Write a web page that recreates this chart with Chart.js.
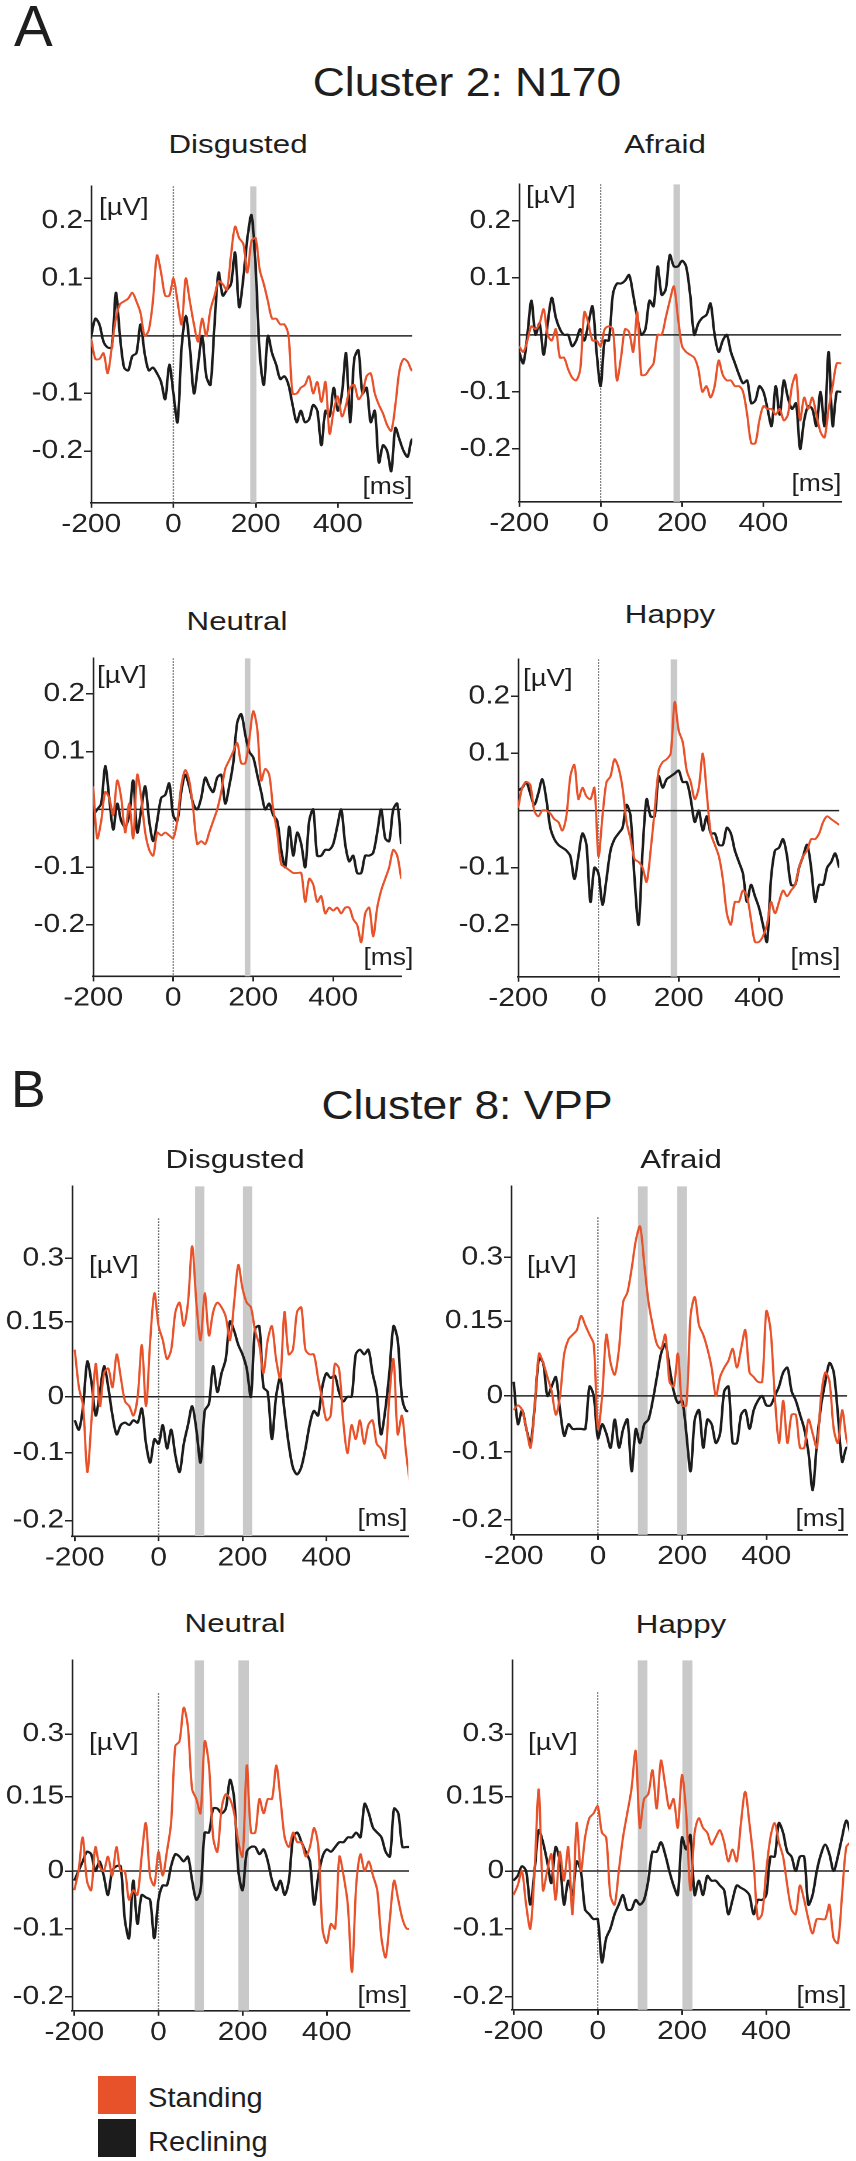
<!DOCTYPE html>
<html><head><meta charset="utf-8">
<script src="https://cdn.jsdelivr.net/npm/chart.js@4.4.1/dist/chart.umd.min.js"></script>
<style>
html,body{margin:0;padding:0;background:#fff;}
body{width:856px;height:2161px;position:relative;overflow:hidden;font-family:'Liberation Sans',Arial,sans-serif;color:#1e1e1e;}
.t{position:absolute;white-space:nowrap;line-height:1;}
.box{position:absolute;transform-origin:0 0;}
.sw{position:absolute;}
</style></head><body>
<script>
// ---------------- DATA ----------------
const times = [
-200,-190,-180,-170,-160,-150,-140,-130,-120,-110,
-100,-90,-80,-70,-60,-50,-40,-30,-20,-10,
0,10,20,30,40,50,60,70,80,90,
100,110,120,130,140,150,160,170,180,190,
200,210,220,230,240,250,260,270,280,290,
300,310,320,330,340,350,360,370,380,390,
400,410,420,430,440,450,460,470,480,490,
500,510,520,530,540,550,560,570,580,590,
600];
const xTickValues = [-200, 0, 200, 400];

const aTickValues = [0.2, 0.1, -0.1, -0.2];
const aTickLabels = ['0.2', '0.1', '-0.1', '-0.2'];
const bTickLabels = ['0.3', '0.15', '0', '-0.1', '-0.2'];
const bTopTickValues = [0.294, 0.159, 0, -0.119, -0.263];
const bBottomTickValues = [0.285, 0.155, 0, -0.12, -0.262];

const seriesNames = ['Standing', 'Reclining'];

// Cluster 2: N170
const AD_S = [ // Disgusted, Standing
-0.005,-0.04,-0.04,-0.03,-0.065,-0.02,0.03,0.055,0.06,0.065,
0.075,0.06,0.04,0.0,0.01,0.06,0.14,0.11,0.07,0.07,
0.1,0.06,0.02,0.1,0.06,0.02,-0.01,0.03,0.0,0.045,
0.07,0.095,0.09,0.08,0.14,0.19,0.17,0.16,0.11,0.165,
0.17,0.115,0.09,0.06,0.03,0.03,0.02,0.02,0.0,-0.1,
-0.1,-0.09,-0.085,-0.07,-0.1,-0.08,-0.115,-0.08,-0.17,-0.13,
-0.105,-0.14,-0.12,-0.09,-0.085,-0.11,-0.1,-0.07,-0.065,-0.1,
-0.12,-0.135,-0.155,-0.165,-0.12,-0.06,-0.04,-0.045,-0.06,-0.06,
-0.06];
const AD_R = [ // Disgusted, Reclining
0.0,0.03,0.02,-0.01,-0.02,-0.02,0.075,0.0,-0.055,-0.06,
-0.035,-0.03,0.02,-0.03,-0.06,-0.055,-0.065,-0.08,-0.11,-0.05,
-0.1,-0.15,-0.02,0.035,-0.02,-0.1,-0.05,0.0,-0.07,-0.085,
0.02,0.11,0.07,0.08,0.09,0.145,0.05,0.1,0.17,0.21,
0.12,-0.03,-0.085,0.0,-0.03,-0.05,-0.075,-0.07,-0.085,-0.12,
-0.15,-0.13,-0.15,-0.145,-0.12,-0.13,-0.19,-0.13,-0.14,-0.09,
-0.13,-0.1,-0.03,-0.15,-0.04,-0.025,-0.1,-0.09,-0.15,-0.13,
-0.22,-0.19,-0.2,-0.235,-0.16,-0.18,-0.2,-0.21,-0.18,-0.18,
-0.18];
const AF_S = [ // Afraid, Standing
-0.02,-0.03,-0.01,0.015,0.01,0.02,0.045,0.0,-0.01,0.01,
-0.04,-0.04,-0.06,-0.075,-0.08,-0.06,0.04,0.02,-0.01,-0.01,
-0.02,0.01,0.015,0.01,-0.08,-0.04,0.01,0.005,-0.03,0.04,
-0.07,-0.07,-0.06,-0.05,0.0,0.0,0.03,0.06,0.085,0.03,
-0.02,-0.03,-0.035,-0.04,-0.06,-0.1,-0.09,-0.11,-0.09,-0.045,
-0.07,-0.08,-0.08,-0.09,-0.09,-0.1,-0.14,-0.19,-0.19,-0.15,
-0.125,-0.13,-0.13,-0.14,-0.13,-0.15,-0.14,-0.09,-0.07,-0.15,
-0.11,-0.13,-0.11,-0.14,-0.17,-0.18,-0.13,-0.09,-0.05,-0.05,
-0.05];
const AF_R = [ // Afraid, Reclining
-0.03,-0.05,0.0,0.06,0.0,0.02,-0.035,0.02,0.065,0.03,
0.01,0.0,0.0,-0.02,-0.01,0.01,-0.01,0.02,0.05,-0.03,
-0.09,-0.01,-0.01,0.07,0.09,0.09,0.095,0.105,0.07,0.03,
0.0,0.01,0.06,0.05,0.12,0.07,0.08,0.14,0.12,0.12,
0.13,0.12,0.07,0.0,0.02,0.03,0.035,0.055,0.0,-0.03,
-0.01,0.0,-0.03,-0.05,-0.07,-0.085,-0.08,-0.12,-0.115,-0.09,
-0.1,-0.13,-0.16,-0.09,-0.14,-0.08,-0.11,-0.13,-0.12,-0.2,
-0.15,-0.125,-0.13,-0.16,-0.1,-0.16,-0.03,-0.16,-0.1,-0.1,
-0.1];
const AN_S = [ // Neutral, Standing
0.04,-0.05,-0.02,0.03,0.02,-0.01,0.05,0.02,-0.04,0.01,
-0.05,0.06,0.02,-0.04,-0.07,-0.08,-0.04,-0.045,-0.04,-0.045,
-0.05,-0.02,0.04,0.068,0.05,0.0,-0.06,-0.055,-0.06,-0.04,
-0.02,0.0,0.03,0.07,0.085,0.1,0.115,0.08,0.08,0.12,
0.17,0.14,0.05,0.07,0.06,0.0,-0.04,-0.095,-0.1,-0.105,
-0.11,-0.11,-0.11,-0.16,-0.12,-0.13,-0.16,-0.15,-0.18,-0.17,
-0.175,-0.17,-0.18,-0.17,-0.17,-0.19,-0.2,-0.23,-0.18,-0.17,
-0.22,-0.17,-0.14,-0.12,-0.1,-0.07,-0.08,-0.12,-0.12,-0.12,
-0.12];
const AN_R = [ // Neutral, Reclining
-0.01,0.0,0.01,0.075,0.02,-0.035,0.01,-0.02,-0.03,-0.01,
0.05,-0.04,0.0,0.04,-0.02,-0.055,-0.02,0.02,0.025,0.045,
-0.01,-0.02,0.03,0.06,0.04,0.01,0.0,0.02,0.055,0.04,
0.03,0.055,0.06,0.01,0.04,0.08,0.15,0.165,0.13,0.1,
0.09,0.06,0.03,0.0,0.01,-0.01,-0.02,-0.07,-0.1,-0.03,
-0.08,-0.04,-0.06,-0.1,-0.02,0.0,-0.08,-0.08,-0.07,-0.07,
-0.06,-0.03,0.0,-0.06,-0.09,-0.08,-0.11,-0.11,-0.08,-0.08,
-0.075,-0.04,0.0,-0.05,-0.055,0.0,0.01,-0.06,-0.06,-0.06,
-0.06];
const AH_S = [ // Happy, Standing
0.005,0.04,0.05,0.045,0.0,-0.01,0.0,0.0,-0.005,-0.015,
-0.02,-0.035,-0.01,0.06,0.08,0.02,0.04,0.025,0.02,0.04,
-0.08,-0.01,0.05,0.06,0.09,0.075,0.04,-0.02,-0.05,-0.085,
-0.09,-0.1,-0.125,-0.07,0.0,0.07,0.085,0.09,0.1,0.19,
0.14,0.12,0.07,0.05,0.02,0.04,0.1,0.03,-0.04,-0.06,
-0.08,-0.12,-0.18,-0.2,-0.16,-0.16,-0.14,-0.15,-0.19,-0.23,
-0.23,-0.22,-0.2,-0.16,-0.18,-0.16,-0.14,-0.15,-0.14,-0.13,
-0.1,-0.08,-0.07,-0.05,-0.05,-0.04,-0.02,-0.01,-0.015,-0.02,
-0.025];
const AH_R = [ // Happy, Reclining
0.035,0.04,0.05,0.03,0.01,0.03,0.055,0.02,-0.03,-0.05,
-0.06,-0.065,-0.07,-0.08,-0.12,-0.08,-0.04,-0.06,-0.16,-0.1,
-0.11,-0.165,-0.12,-0.07,-0.05,-0.04,-0.03,0.01,-0.01,-0.12,
-0.2,-0.07,0.02,-0.01,-0.01,0.06,0.04,0.055,0.06,0.065,
0.07,0.05,0.05,0.02,-0.02,0.0,-0.035,-0.01,-0.04,-0.04,
-0.06,-0.06,-0.03,-0.04,-0.07,-0.09,-0.11,-0.16,-0.13,-0.15,
-0.17,-0.2,-0.23,-0.12,-0.07,-0.065,-0.05,-0.08,-0.13,-0.13,
-0.1,-0.08,-0.06,-0.1,-0.16,-0.13,-0.13,-0.1,-0.09,-0.075,
-0.1];

// Cluster 8: VPP
const BD_S = [ // Disgusted, Standing
0.1,0.02,-0.02,-0.16,-0.05,0.07,-0.02,0.05,0.06,0.02,
0.09,0.04,-0.01,-0.02,-0.04,0.0,0.11,-0.02,0.12,0.22,
0.15,0.12,0.08,0.1,0.18,0.2,0.15,0.2,0.32,0.2,
0.12,0.22,0.13,0.18,0.2,0.19,0.17,0.12,0.2,0.28,
0.23,0.2,0.19,0.14,0.11,0.05,0.12,0.15,0.08,0.04,
0.18,0.09,0.1,0.18,0.19,0.1,0.09,0.09,0.04,-0.005,
-0.05,-0.04,0.07,0.06,-0.05,-0.12,-0.06,-0.09,-0.05,-0.1,
-0.06,-0.05,-0.1,-0.11,-0.13,0.0,0.08,-0.08,-0.04,-0.12,
-0.19];
const BD_R = [ // Disgusted, Reclining
-0.05,-0.07,-0.02,0.075,0.03,-0.04,0.01,0.065,0.02,-0.04,
-0.08,-0.06,-0.055,-0.06,-0.05,-0.055,-0.025,-0.1,-0.14,-0.09,
-0.1,-0.06,-0.11,-0.07,-0.125,-0.16,-0.1,-0.06,-0.02,-0.07,
-0.14,-0.03,-0.015,0.065,0.01,0.05,0.08,0.16,0.14,0.11,
0.09,0.06,0.0,0.145,0.15,0.02,0.01,-0.09,0.0,0.04,
-0.03,-0.1,-0.15,-0.165,-0.15,-0.11,-0.06,-0.03,-0.04,0.02,
0.05,0.04,0.045,0.01,-0.01,0.0,0.0,0.09,0.1,0.09,
0.1,0.05,0.01,-0.08,-0.03,0.05,0.15,0.12,0.0,-0.03,
-0.03];
const BA_S = [ // Afraid, Standing
-0.03,-0.02,-0.03,-0.07,-0.11,-0.02,0.09,0.07,0.04,0.01,
-0.04,0.0,0.09,0.12,0.13,0.14,0.17,0.15,0.13,0.11,
-0.07,0.0,0.13,0.07,0.045,0.1,0.2,0.22,0.27,0.33,
0.36,0.28,0.2,0.15,0.11,0.1,0.13,0.03,0.02,0.09,
-0.02,-0.02,0.17,0.21,0.15,0.13,0.1,0.06,0.0,0.04,
0.06,0.075,0.1,0.06,0.1,0.14,0.05,0.04,0.03,0.03,
0.18,0.14,0.0,-0.1,-0.01,-0.1,-0.04,-0.04,-0.11,-0.11,
-0.05,-0.08,-0.11,0.0,0.05,0.03,-0.07,-0.1,-0.03,-0.09,
-0.12];
const BA_R = [ // Afraid, Reclining
0.03,-0.06,-0.03,-0.07,-0.1,-0.02,0.08,0.07,0.0,0.02,
0.04,-0.03,-0.085,-0.06,-0.07,-0.07,-0.07,-0.07,0.02,0.0,
-0.09,-0.06,-0.08,-0.11,-0.05,-0.11,-0.07,-0.05,-0.16,-0.07,
-0.1,-0.06,-0.05,-0.01,0.04,0.09,0.11,0.06,0.01,-0.015,
-0.01,-0.08,-0.16,-0.05,-0.03,-0.11,-0.05,-0.06,-0.1,-0.08,
0.01,0.02,-0.1,-0.1,-0.04,-0.03,-0.07,-0.03,-0.01,0.0,
-0.02,-0.02,0.0,0.02,0.05,0.06,0.01,-0.01,-0.04,-0.07,
-0.12,-0.2,-0.1,-0.02,0.03,0.07,0.05,-0.04,-0.14,-0.11,
-0.11];
const BN_S = [ // Neutral, Standing
-0.04,0.0,0.07,-0.02,-0.04,0.05,0.01,0.0,0.03,-0.01,
0.05,0.0,0.0,-0.06,-0.04,-0.05,0.03,0.1,-0.01,-0.03,
0.04,-0.01,0.04,0.1,0.26,0.27,0.34,0.3,0.17,0.15,
0.12,0.27,0.22,0.07,0.04,0.13,0.16,0.15,0.12,0.06,
0.03,0.22,0.08,0.08,0.15,0.12,0.15,0.15,0.22,0.15,
0.07,0.05,0.08,0.06,0.06,0.03,0.05,0.09,0.05,-0.12,
-0.15,-0.11,-0.12,0.03,-0.01,-0.07,-0.21,-0.03,0.035,0.0,
0.02,-0.01,-0.04,-0.14,-0.18,-0.1,-0.02,-0.06,-0.1,-0.12,
-0.12];
const BN_R = [ // Neutral, Reclining
-0.02,0.0,0.02,0.04,0.035,0.0,0.02,-0.01,-0.05,0.0,
0.01,0.01,-0.1,-0.14,-0.02,-0.11,-0.05,-0.055,-0.06,-0.14,
-0.06,-0.03,-0.03,0.01,0.035,0.03,0.02,0.03,-0.02,-0.06,
-0.04,0.08,0.08,0.13,0.13,0.12,0.13,0.19,0.15,0.0,
-0.04,0.04,0.05,0.05,0.035,0.045,0.02,-0.02,-0.04,-0.02,
-0.05,-0.02,0.07,0.08,0.06,0.04,0.02,-0.07,-0.01,0.03,
0.045,0.04,0.05,0.06,0.06,0.07,0.07,0.08,0.07,0.14,
0.12,0.09,0.08,0.07,0.04,0.03,0.13,0.12,0.05,0.05,
0.05];
const BH_S = [ // Happy, Standing
-0.05,-0.03,0.0,-0.07,-0.12,0.0,0.17,-0.04,0.0,0.035,
-0.06,0.04,-0.02,0.05,-0.09,0.1,0.0,0.07,0.11,0.12,
0.135,0.08,0.07,-0.05,-0.07,0.0,0.07,0.12,0.17,0.25,
0.09,0.15,0.16,0.21,0.13,0.23,0.18,0.13,0.15,0.09,
0.2,0.12,-0.04,0.08,0.11,0.09,0.08,0.055,0.07,0.085,
0.06,0.02,0.045,0.02,0.1,0.165,0.1,0.02,-0.1,-0.09,
0.0,0.07,0.1,0.06,0.03,-0.03,-0.08,-0.09,-0.03,-0.06,
-0.1,-0.13,-0.1,-0.1,-0.1,-0.07,-0.14,-0.15,-0.05,0.05,
0.06];
const BH_R = [ // Happy, Reclining
-0.02,-0.01,0.01,0.0,-0.07,0.0,0.085,0.06,0.02,-0.025,
0.05,0.02,-0.07,-0.02,-0.05,0.02,0.0,-0.08,-0.09,-0.1,
-0.1,-0.19,-0.14,-0.12,-0.09,-0.07,-0.05,-0.08,-0.08,-0.06,
-0.07,-0.06,-0.02,0.04,0.04,0.06,0.035,0.0,-0.03,-0.05,
0.07,0.045,0.075,-0.05,-0.02,-0.05,-0.01,-0.02,-0.02,-0.03,
-0.04,-0.09,-0.06,-0.03,-0.035,-0.04,-0.05,-0.09,-0.06,-0.06,
-0.05,0.03,0.03,0.1,0.08,0.04,0.03,0.0,0.03,0.03,
-0.07,-0.05,0.0,0.035,0.055,0.035,0.0,0.03,0.07,0.105,
0.08];

// significant time windows (ms)
const bandsAD = [[187, 202]];
const bandsAF = [[179, 195]];
const bandsAN = [[179, 193]];
const bandsAH = [[180, 196]];
const bandsBD = [[87, 109], [201, 223]];
const bandsBA = [[95, 118], [188, 211]];
const bandsBN = [[86, 108], [190, 215]];
const bandsBH = [[95, 118], [201, 225]];

// ---------------- STYLE / LAYOUT ----------------
const S = 1.17;                       // horizontal stretch of the reference figure
const FONT = "'Liberation Sans', Arial, sans-serif";
const ORANGE = '#e8522a', BLACK = '#1c1c1c', BAND = '#c9c9c9', INK = '#222222';

const panels = [
 {name:'Disgusted', std:AD_S, rec:AD_R, area:[91,412,186,502.8],   xr:[-200,581], yr:[-0.290,0.260], yt:aTickValues, yl:aTickLabels, bands:bandsAD, dotTop:null, title:[237.5,153.2], uv:[99,215.6],  ms:[412,494.5]},
 {name:'Afraid',    std:AF_S, rec:AF_R, area:[519,841,184.2,502.1], xr:[-200,591], yr:[-0.293,0.264], yt:aTickValues, yl:aTickLabels, bands:bandsAF, dotTop:null, title:[665,153.2],   uv:[526,203.5], ms:[841,491]},
 {name:'Neutral',   std:AN_S, rec:AN_R, area:[93,401,658.3,976.7],  xr:[-200,570], yr:[-0.289,0.2615],yt:aTickValues, yl:aTickLabels, bands:bandsAN, dotTop:null, title:[237,630.7],   uv:[97,683.2],  ms:[413,965.2]},
 {name:'Happy',     std:AH_S, rec:AH_R, area:[518,839,659.3,977],   xr:[-200,600], yr:[-0.291,0.265], yt:aTickValues, yl:aTickLabels, bands:bandsAH, dotTop:null, title:[670,623.3],   uv:[523,686.9], ms:[840,965.2]},
 {name:'Disgusted', std:BD_S, rec:BD_R, area:[72,408,1185.7,1535.8],  xr:[-206,595], yr:[-0.296,0.447], yt:bTopTickValues, yl:bTickLabels, bands:bandsBD, dotTop:0.379, title:[235,1168.6], uv:[89,1273.8],  ms:[407,1526.8]},
 {name:'Afraid',    std:BA_S, rec:BA_R, area:[511,847,1185.7,1534.6], xr:[-206,592], yr:[-0.295,0.445], yt:bTopTickValues, yl:bTickLabels, bands:bandsBA, dotTop:0.379, title:[681,1168.6], uv:[527,1273.8], ms:[845,1526.8]},
 {name:'Neutral',   std:BN_S, rec:BN_R, area:[72,409,1660.2,2011],    xr:[-205,596], yr:[-0.291,0.4386], yt:bBottomTickValues, yl:bTickLabels, bands:bandsBN, dotTop:0.37, title:[235,1632.8], uv:[89,1750.2],  ms:[407,2003.2]},
 {name:'Happy',     std:BH_S, rec:BH_R, area:[512,849,1660.2,2010.1], xr:[-203,597], yr:[-0.289,0.4386], yt:bBottomTickValues, yl:bTickLabels, bands:bandsBH, dotTop:0.372, title:[681,1633], uv:[528,1750.2], ms:[846,2003.2]}
];

// ---------------- HELPERS ----------------
function addText(str, x, baseline, size, stretch, align) {
  const d = document.createElement('div');
  d.className = 't';
  d.textContent = str;
  d.style.fontSize = size + 'px';
  d.style.top = (baseline - 0.8465 * size) + 'px';
  if (align === 'center') {
    d.style.left = x + 'px';
    d.style.transformOrigin = '50% 0';
    d.style.transform = 'translateX(-50%) scaleX(' + stretch + ')';
  } else if (align === 'right') {
    d.style.right = (856 - x) + 'px';
    d.style.transformOrigin = '100% 0';
    d.style.transform = 'scaleX(' + stretch + ')';
  } else {
    d.style.left = x + 'px';
    d.style.transformOrigin = '0 0';
    d.style.transform = 'scaleX(' + stretch + ')';
  }
  document.body.appendChild(d);
  return d;
}
const pts = vals => times.map((t, i) => ({x: t, y: vals[i]}));

function makePanel(p) {
  const [L, R, T, B] = p.area;
  const YW = 60, TP = 16, XH = 48;
  const innerW = (R - L) / S;
  const totalW = Math.ceil(YW + innerW + 6);
  const RP = totalW - YW - innerW;
  const innerH = B - T;
  const totalH = Math.ceil(TP + innerH + XH);
  const XHf = totalH - TP - innerH;

  const wrap = document.createElement('div');
  wrap.className = 'box';
  wrap.style.left = (L - YW * S) + 'px';
  wrap.style.top = (T - TP) + 'px';
  wrap.style.width = totalW + 'px';
  wrap.style.height = totalH + 'px';
  wrap.style.transform = 'scaleX(' + S + ')';
  const cv = document.createElement('canvas');
  wrap.appendChild(cv);
  document.body.appendChild(wrap);

  const decor = {
    id: 'decor',
    beforeDatasetsDraw(chart) {
      const {ctx, chartArea: a, scales: {x, y}} = chart;
      ctx.save();
      ctx.beginPath(); ctx.rect(a.left, a.top, a.right - a.left, a.bottom - a.top); ctx.clip();
      ctx.fillStyle = BAND;
      p.bands.forEach(([b0, b1]) => {
        const x0 = x.getPixelForValue(b0), x1 = x.getPixelForValue(b1);
        ctx.fillRect(x0, a.top, x1 - x0, a.bottom - a.top);
      });
      const xz = x.getPixelForValue(0);
      const yTop = p.dotTop == null ? a.top : y.getPixelForValue(p.dotTop);
      ctx.strokeStyle = '#555'; ctx.lineWidth = 1.1; ctx.setLineDash([1.5, 1.5]);
      ctx.beginPath(); ctx.moveTo(xz, yTop); ctx.lineTo(xz, a.bottom); ctx.stroke();
      ctx.setLineDash([]);
      const yz = y.getPixelForValue(0);
      ctx.strokeStyle = INK; ctx.lineWidth = 1.5;
      ctx.beginPath(); ctx.moveTo(a.left, yz); ctx.lineTo(a.right, yz); ctx.stroke();
      ctx.restore();
    }
  };

  const tickFont = {family: FONT, size: 25.5};
  new Chart(cv, {
    type: 'line',
    data: {datasets: [
      {label: seriesNames[0], data: pts(p.std), borderColor: ORANGE, borderWidth: 1.9, pointRadius: 0, tension: 0.3},
      {label: seriesNames[1], data: pts(p.rec), borderColor: BLACK, borderWidth: 2.2, pointRadius: 0, tension: 0.3}
    ]},
    options: {
      animation: false, responsive: true, maintainAspectRatio: false, devicePixelRatio: 2,
      events: [],
      layout: {padding: {left: 0, right: RP, top: TP, bottom: 0}},
      plugins: {legend: {display: false}, tooltip: {enabled: false}, title: {display: false}},
      scales: {
        x: {
          type: 'linear', min: p.xr[0], max: p.xr[1],
          afterBuildTicks: s => { s.ticks = xTickValues.map(v => ({value: v})); },
          afterFit: s => { s.height = XHf; },
          ticks: {font: tickFont, color: INK, padding: 2, maxRotation: 0, autoSkip: false, callback: v => String(v)},
          grid: {display: true, drawOnChartArea: false, drawTicks: true, tickLength: 5, color: INK, lineWidth: 1.5},
          border: {display: true, color: INK, width: 1.6}
        },
        y: {
          type: 'linear', min: p.yr[0], max: p.yr[1],
          afterBuildTicks: s => { s.ticks = p.yt.map(v => ({value: v})); },
          afterFit: s => { s.width = YW; },
          ticks: {font: tickFont, color: INK, padding: 1, autoSkip: false, callback: (v, i) => p.yl[i]},
          grid: {display: true, drawOnChartArea: false, drawTicks: true, tickLength: 6, color: INK, lineWidth: 1.5},
          border: {display: true, color: INK, width: 1.5}
        }
      }
    },
    plugins: [decor]
  });

  addText(p.name, p.title[0], p.title[1], 26.5, 1.18, 'center');
  addText('[\u00b5V]', p.uv[0], p.uv[1], 23, 1.2, 'left');
  addText('[ms]', p.ms[0], p.ms[1], 23, 1.15, 'right');
}

// ---------------- BUILD ----------------
addText('A', 14, 45.7, 58, 1, 'left');
addText('Cluster 2: N170', 467, 96.2, 41.5, 1.07, 'center');
addText('B', 11, 1106.7, 52, 1, 'left');
addText('Cluster 8: VPP', 467, 1119, 41.5, 1.07, 'center');

panels.forEach(makePanel);

// legend
[[ORANGE, 2075.5, seriesNames[0], 2107], [BLACK, 2119, seriesNames[1], 2151.3]].forEach(([c, top, label, base]) => {
  const sq = document.createElement('div');
  sq.className = 'sw';
  sq.style.left = '98px'; sq.style.top = top + 'px';
  sq.style.width = '38px'; sq.style.height = '38px';
  sq.style.background = c;
  document.body.appendChild(sq);
  addText(label, 148, base, 28.5, 1.02, 'left');
});
</script>
</body></html>
